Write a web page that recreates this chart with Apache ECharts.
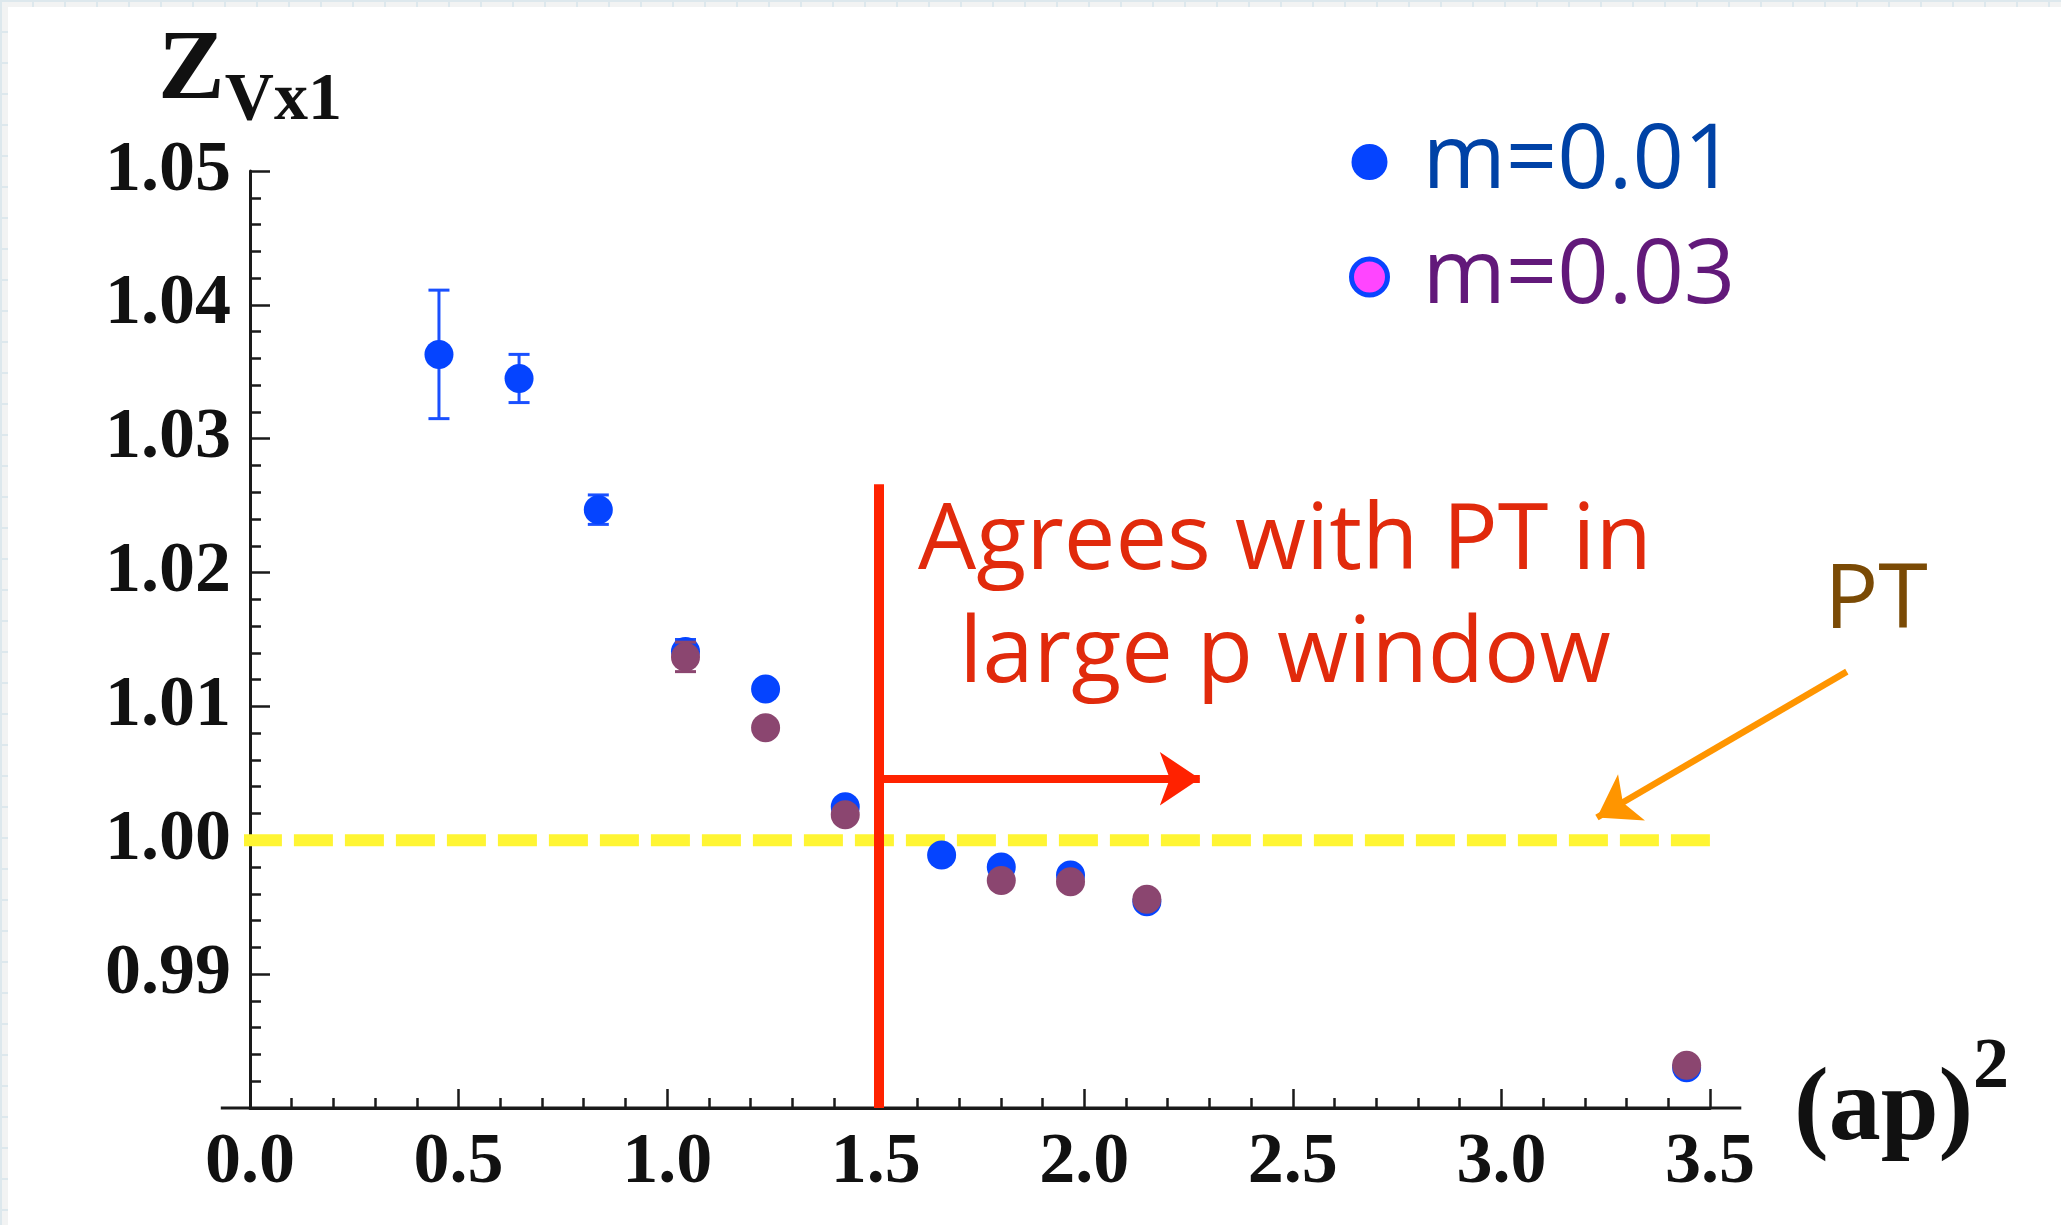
<!DOCTYPE html>
<html><head><meta charset="utf-8">
<script src="https://cdn.jsdelivr.net/npm/echarts@6/dist/echarts.min.js"></script>
<style>
html,body{margin:0;padding:0;width:2061px;height:1225px;overflow:hidden;background-color:#f2f3f3;
background-image:linear-gradient(#dde8ed 2px, transparent 2px),linear-gradient(90deg,#dde8ed 2px,transparent 2px);background-size:32px 31px;}
#chart{position:absolute;left:8px;top:7px;width:2053px;height:1218px;background:#fff;}
</style></head><body><div id="chart"></div><script>
// ---- data ----
const xM01 = [0.453, 0.645, 0.835, 1.044, 1.236, 1.427, 1.658, 1.801, 1.967, 2.150, 3.444];
const yM01 = [1.0363, 1.0345, 1.0247, 1.0141, 1.0113, 1.0025, 0.9989, 0.9980, 0.9974, 0.9954, 0.9830];
const eM01 = [0.0048, 0.0018, 0.0011, 0.0009, 0, 0, 0, 0, 0, 0, 0];
const xM03 = [1.044, 1.236, 1.427, 1.801, 1.967, 2.150, 3.444];
const yM03 = [1.0137, 1.0084, 1.0019, 0.9970, 0.9969, 0.9956, 0.9832];
const eM03 = [0.0011, 0, 0, 0, 0, 0, 0];
const seriesNames = ['m=0.01', 'm=0.03'];
// axes
const xMin = 0, xMax = 3.5, xStep = 0.5;
const yMin = 0.98, yMax = 1.05, yStep = 0.01;
// annotations (data coordinates)
const ptLevel = 1.00, ptFromX = -0.017, ptToX = 3.5;
const cutX = 1.507, cutTop = 1.0266;
const arrowY = 1.0046, arrowEndX = 2.277;
const ptArrowFrom = [3.828, 1.0126], ptArrowTo = [3.229, 1.0017];
const axisExtent = [-0.07, 3.575];
const annoLines = ['Agrees with PT in', 'large p window'];
const ptLabel = 'PT';

const chart = echarts.init(document.getElementById('chart'), null, {renderer: 'canvas'});
const serif = 'Liberation Serif';
const sans = 'Open Sans';
const blue = '#0544ff', purple = '#8b4670';

function errRender(color) {
  return function (params, api) {
    const x = api.value(0), y = api.value(1), e = api.value(2);
    if (!e) return null;
    const t = api.coord([x, y + e]), b = api.coord([x, y - e]);
    const hw = 10.5;
    const st = {stroke: color, lineWidth: 3};
    return {type: 'group', children: [
      {type: 'line', shape: {x1: t[0], y1: t[1], x2: b[0], y2: b[1]}, style: st},
      {type: 'line', shape: {x1: t[0] - hw, y1: t[1], x2: t[0] + hw, y2: t[1]}, style: st},
      {type: 'line', shape: {x1: b[0] - hw, y1: b[1], x2: b[0] + hw, y2: b[1]}, style: st}
    ]};
  };
}

const option = {
  animation: false,
  backgroundColor: '#ffffff',
  grid: {left: 242, top: 164, width: 1460, height: 937, containLabel: false},
  legend: {
    orient: 'vertical', left: 1336, top: 105, itemWidth: 36, itemHeight: 36, itemGap: 25,
    selectedMode: false,
    textStyle: {fontFamily: sans, fontSize: 90, lineHeight: 62, padding: [0, 0, 28, 30]},
    data: [
      {name: seriesNames[0], icon: 'circle', itemStyle: {color: blue}, textStyle: {color: '#0042a6'}},
      {name: seriesNames[1], icon: 'circle', itemStyle: {color: '#ff45ff', borderColor: '#0a44ff', borderWidth: 5}, textStyle: {color: '#62197a'}}
    ]
  },
  xAxis: {
    type: 'value', min: xMin, max: xMax, interval: xStep,
    name: '{a|(ap)}{s|2}', nameLocation: 'end', nameGap: 84,
    nameTextStyle: {padding: [8, 0, 0, 0], rich: {
      a: {fontFamily: serif, fontWeight: 'bold', fontSize: 104, lineHeight: 116, color: '#111'},
      s: {fontFamily: serif, fontWeight: 'bold', fontSize: 72, height: 28, verticalAlign: 'top', color: '#111'}
    }},
    axisLine: {show: true, lineStyle: {color: '#1a1a1a', width: 3}},
    axisTick: {show: true, inside: true, length: 19, lineStyle: {color: '#1a1a1a', width: 2.5}},
    minorTick: {show: true, splitNumber: 5, length: 10, lineStyle: {color: '#1a1a1a', width: 2.5}},
    splitLine: {show: false},
    axisLabel: {margin: 19, fontFamily: serif, fontWeight: 'bold', fontSize: 72, color: '#111',
      formatter: v => v.toFixed(1)}
  },
  yAxis: {
    type: 'value', min: yMin, max: yMax, interval: yStep,
    name: '{z|Z}{s|Vx1}', nameLocation: 'end', nameGap: 47,
    nameTextStyle: {rich: {
      z: {fontFamily: serif, fontWeight: 'bold', fontSize: 100, lineHeight: 110, verticalAlign: 'bottom', color: '#111'},
      s: {fontFamily: serif, fontWeight: 'bold', fontSize: 68, height: 42, verticalAlign: 'bottom', color: '#111'}
    }},
    axisLine: {show: true, lineStyle: {color: '#1a1a1a', width: 3}},
    axisTick: {show: true, inside: true, length: 20, lineStyle: {color: '#1a1a1a', width: 2.5}},
    minorTick: {show: true, splitNumber: 5, length: 11, lineStyle: {color: '#1a1a1a', width: 2.5}},
    splitLine: {show: false},
    axisLabel: {margin: 19, showMinLabel: false, fontFamily: serif, fontWeight: 'bold', fontSize: 72, color: '#111',
      formatter: v => v.toFixed(2)}
  },
  series: [
    {type: 'line', name: 'PT level', data: [[ptFromX, ptLevel], [ptToX, ptLevel]], symbol: 'none', clip: false, silent: true,
      lineStyle: {color: '#fff533', width: 12, type: [39, 12]}, z: 1},
    {type: 'custom', name: 'err01', renderItem: errRender('#1a50ff'), clip: false, silent: true,
      data: xM01.map((x, i) => [x, yM01[i], eM01[i]]), encode: {x: 0, y: 1}, z: 2},
    {type: 'scatter', name: seriesNames[0], data: xM01.map((x, i) => [x, yM01[i]]), symbol: 'circle', symbolSize: 29,
      itemStyle: {color: blue, opacity: 1}, z: 3},
    {type: 'custom', name: 'err03', renderItem: errRender(purple), clip: false, silent: true,
      data: xM03.map((x, i) => [x, yM03[i], eM03[i]]), encode: {x: 0, y: 1}, z: 4},
    {type: 'scatter', name: seriesNames[1], data: xM03.map((x, i) => [x, yM03[i]]), symbol: 'circle', symbolSize: 29,
      itemStyle: {color: purple, opacity: 1}, z: 5},
    {type: 'lines', name: 'cut', coordinateSystem: 'cartesian2d', clip: false, silent: true, symbol: 'none',
      lineStyle: {color: '#ff2200', width: 10, opacity: 1},
      data: [{coords: [[cutX, yMin], [cutX, cutTop]]}], z: 6},
    {type: 'lines', name: 'window arrow', coordinateSystem: 'cartesian2d', clip: false, silent: true,
      symbol: ['none', 'arrow'], symbolSize: 40,
      lineStyle: {color: '#ff2200', width: 8, opacity: 1},
      data: [{coords: [[cutX, arrowY], [arrowEndX, arrowY]]}], z: 6},
    {type: 'lines', name: 'PT arrow', coordinateSystem: 'cartesian2d', clip: false, silent: true,
      symbol: ['none', 'arrow'], symbolSize: 40,
      lineStyle: {color: '#ff9500', width: 6.5, opacity: 1},
      data: [{coords: [ptArrowFrom, ptArrowTo]}], z: 6}
  ],
  graphic: [
    {type: 'text', x: 1277, y: 479, z: 10, silent: true,
      style: {text: annoLines.join('\n'), font: '92px "Open Sans"', fill: '#e12a0c', align: 'center', verticalAlign: 'top', lineHeight: 113}},
    {type: 'text', x: 1868, y: 595, z: 10, silent: true,
      style: {text: ptLabel, font: '90px "Open Sans"', fill: '#7a4a05', align: 'center', verticalAlign: 'middle'}}
  ]
};
chart.setOption(option);

// extend the x-axis line a little beyond both ends, as in the original plot
const pA = chart.convertToPixel({gridIndex: 0}, [axisExtent[0], yMin]);
const pB = chart.convertToPixel({gridIndex: 0}, [axisExtent[1], yMin]);
chart.setOption({graphic: option.graphic.concat([
  {type: 'line', z: 5, silent: true, shape: {x1: pA[0], y1: pA[1], x2: pB[0], y2: pB[1]},
    style: {stroke: '#1a1a1a', lineWidth: 3}}
])});
</script></body></html>
